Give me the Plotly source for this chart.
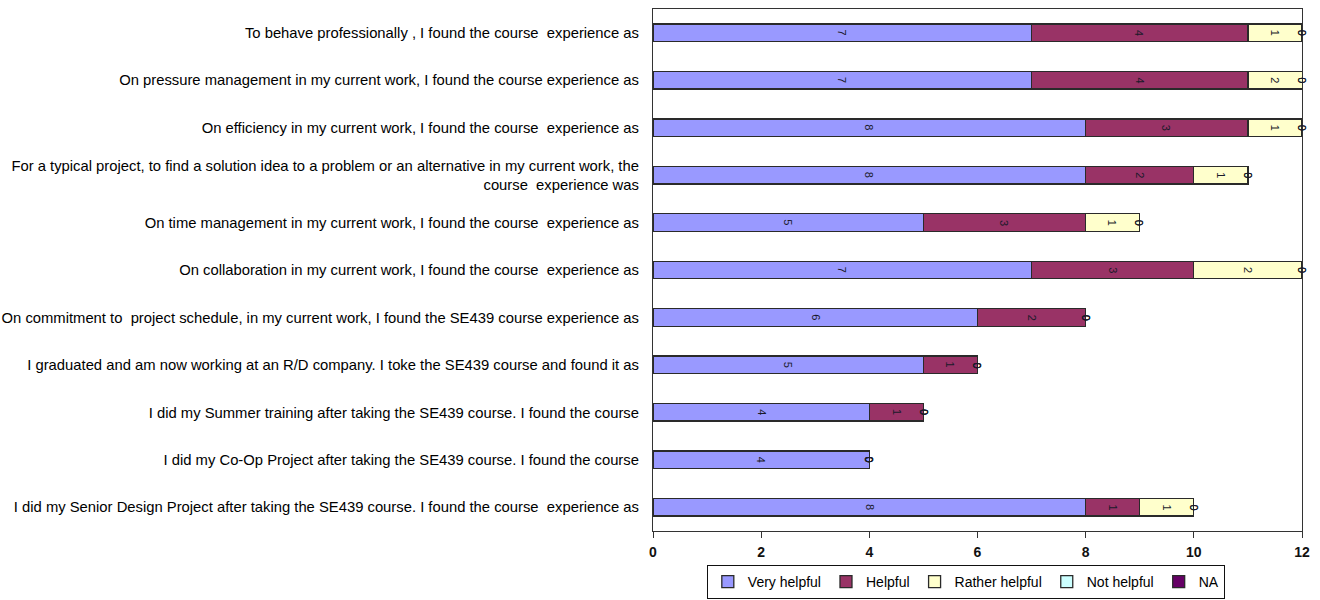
import plotly.graph_objects as go

# Categories listed top to bottom as shown
categories = [
    "To behave professionally , I found the course  experience as",
    "On pressure management in my current work, I found the course experience as",
    "On efficiency in my current work, I found the course  experience as",
    "For a typical project, to find a solution idea to a problem or an alternative in my current work, the<br>course  experience was",
    "On time management in my current work, I found the course  experience as",
    "On collaboration in my current work, I found the course  experience as",
    "On commitment to  project schedule, in my current work, I found the SE439 course experience as",
    "I graduated and am now working at an R/D company. I toke the SE439 course and found it as",
    "I did my Summer training after taking the SE439 course. I found the course",
    "I did my Co-Op Project after taking the SE439 course. I found the course",
    "I did my Senior Design Project after taking the SE439 course. I found the course  experience as",
]

series_names = ["Very helpful", "Helpful", "Rather helpful", "Not helpful", "NA"]
very_helpful   = [7, 7, 8, 8, 5, 7, 6, 5, 4, 4, 8]
helpful        = [4, 4, 3, 2, 3, 3, 2, 1, 1, 0, 1]
rather_helpful = [1, 2, 1, 1, 1, 2, 0, 0, 0, 0, 1]
not_helpful    = [0, 0, 0, 0, 0, 0, 0, 0, 0, 0, 0]
na             = [0, 0, 0, 0, 0, 0, 0, 0, 0, 0, 0]

x_ticks = [0, 2, 4, 6, 8, 10, 12]
x_max = 12

colors = ["#9999FF", "#993366", "#FFFFCC", "#CCFFFF", "#660066"]
series = [very_helpful, helpful, rather_helpful, not_helpful, na]

label_font = "Liberation Sans, Arial, sans-serif"

fig = go.Figure()
for name, vals, col in zip(series_names, series, colors):
    fig.add_trace(go.Bar(
        y=categories, x=vals, name=name, orientation="h",
        marker=dict(color=col, line=dict(color="#2a2a2a", width=1.3)),
        width=0.37,
    ))

# rotated value labels (Excel-style), centred on the visible part of each segment
annotations = []
for i, cat in enumerate(categories):
    base = 0
    for vals in series:
        v = vals[i]
        lo = min(base, x_max)
        hi = min(base + v, x_max)
        annotations.append(dict(
            x=(lo + hi) / 2, y=cat, xref="x", yref="y",
            text=str(v), showarrow=False, textangle=90,
            font=dict(size=11, color="#1a1a2a", family="Liberation Sans, Arial"),
        ))
        base += v

fig.update_layout(
    barmode="stack",
    width=1320, height=600,
    margin=dict(l=653, r=18, t=9, b=69),
    paper_bgcolor="white", plot_bgcolor="white",
    bargap=0.63,
    annotations=annotations,
    showlegend=True,
    legend=dict(
        orientation="h", traceorder="normal",
        xref="paper", x=0.482, xanchor="center",
        yref="container", y=1 - 565 / 600, yanchor="top",
        bordercolor="#111", borderwidth=1,
        font=dict(size=14, family=label_font, color="#000"),
        itemwidth=30, tracegroupgap=0,
    ),
    xaxis=dict(
        range=[0, x_max], tickvals=x_ticks, automargin=False,
        showline=True, linecolor="#333", linewidth=1.2, mirror=True,
        ticks="outside", ticklen=6, tickcolor="#333",
        ticklabelstandoff=2,
        showgrid=False, zeroline=False,
        tickfont=dict(size=14, family="Liberation Sans, Arial", color="#111", weight="bold"),
    ),
    yaxis=dict(
        autorange="reversed", type="category", automargin=False,
        showline=True, linecolor="#333", linewidth=1.2, mirror=True,
        ticks="", showgrid=False, zeroline=False,
        ticklabelstandoff=10,
        tickfont=dict(size=14.8, family=label_font, color="#000"),
    ),
)

fig.write_html("out.html")
